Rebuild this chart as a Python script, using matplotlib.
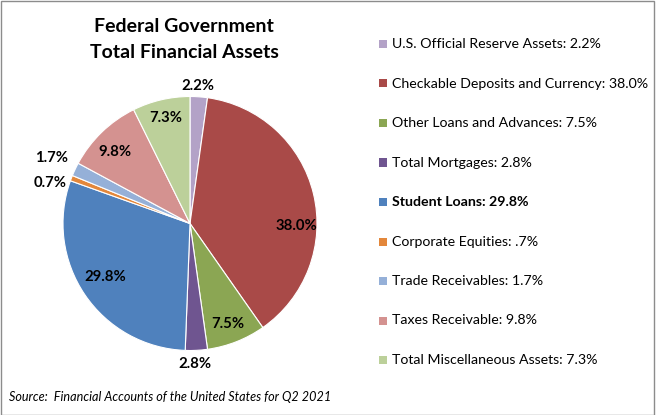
import matplotlib.pyplot as plt
from matplotlib.patches import Rectangle

# data (clockwise from 12 o'clock)
categories = ['U.S. Official Reserve Assets', 'Checkable Deposits and Currency',
              'Other Loans and Advances', 'Total Mortgages', 'Student Loans',
              'Corporate Equities', 'Trade Receivables', 'Taxes Receivable',
              'Total Miscellaneous Assets']
shares = [2.2, 38.0, 7.5, 2.8, 29.8, 0.7, 1.7, 9.8, 7.3]
legend_values = ['2.2%', '38.0%', '7.5%', '2.8%', '29.8%', '.7%', '1.7%', '9.8%', '7.3%']
colors = ['#B3A2C7', '#A94A48', '#8BA653', '#6F5590', '#4F81BD',
          '#E3873B', '#95B0D8', '#D49290', '#BCD09A']

# label spots, in pie radius units, relative to centre
label_pos = [(0.06, 1.08), (0.835, -0.02), (0.30, -0.79), (0.04, -1.11),
             (-0.67, -0.42), (-1.10, 0.32), (-1.09, 0.515), (-0.59, 0.56),
             (-0.19, 0.83)]

plt.rcParams['font.family'] = ['Lato', 'DejaVu Sans']

W, H = 657, 415
fig = plt.figure(figsize=(W / 100, H / 100), dpi=100)

# pie axes: centre (190, 223.5) px, radius 127 px
cx, cy, R = 190, H - 223.5, 127
pad = 1.3
ax = fig.add_axes([(cx - R * pad) / W, (cy - R * pad) / H,
                   2 * R * pad / W, 2 * R * pad / H])
ax.pie(shares, colors=colors, startangle=90, counterclock=False,
       wedgeprops=dict(edgecolor='white', linewidth=0.8))
ax.set_xlim(-pad, pad)
ax.set_ylim(-pad, pad)
ax.set_aspect('equal')
ax.axis('off')

for v, (x, y) in zip(shares, label_pos):
    ax.text(x, y, f'{v:.1f}%', ha='center', va='center',
            fontsize=10.7, fontweight='bold', color='black')

# title
fig.text(184 / W, 1 - 27 / H, 'Federal Government', ha='center', va='center',
         fontsize=14, fontweight='bold')
fig.text(184 / W, 1 - 53 / H, 'Total Financial Assets', ha='center', va='center',
         fontsize=14, fontweight='bold')

# legend
y0, dy = 44, 39.5
for i, (cat, val, c) in enumerate(zip(categories, legend_values, colors)):
    y = y0 + i * dy
    fig.add_artist(Rectangle((379 / W, 1 - (y + 4) / H), 8 / W, 8 / H,
                             transform=fig.transFigure, facecolor=c, edgecolor='none'))
    fig.text(392 / W, 1 - y / H, f'{cat}: {val}', ha='left', va='center',
             fontsize=10.2, fontweight='bold' if cat == 'Student Loans' else 'normal')

# source
fig.text(9 / W, 1 - 397 / H, 'Source:  Financial Accounts of the United States for Q2 2021',
         ha='left', va='center', fontsize=9.1, style='italic')

# outer border
fig.add_artist(Rectangle((0.5 / W, 0.5 / H), (W - 4) / W, (H - 1.5) / H,
                         transform=fig.transFigure, facecolor='none',
                         edgecolor='#8C8C8C', linewidth=1))

fig.savefig('out.png', dpi=100)
